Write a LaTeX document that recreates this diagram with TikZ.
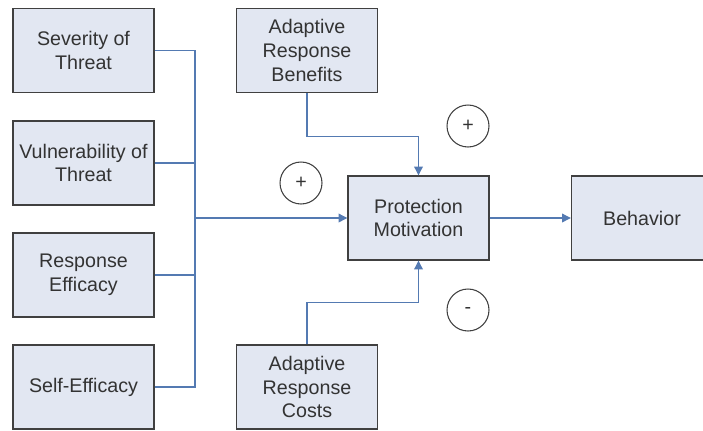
\documentclass[tikz,border=0pt]{standalone}
\usepackage{fontspec}
\setmainfont{Liberation Sans}
\usepackage{tikz}
\usetikzlibrary{arrows.meta}

\definecolor{boxfill}{RGB}{226,231,242}
\definecolor{boxline}{RGB}{64,64,64}
\definecolor{wireblue}{RGB}{84,122,178}

\begin{document}
\begin{tikzpicture}[x=0.02cm, y=-0.02cm,
  factor/.style={draw=boxline, line width=0.8pt, fill=boxfill,
    minimum width=2.82cm, minimum height=1.68cm, align=center,
    text=black!80, font=\fontsize{11.2}{13.6}\selectfont},
  wire/.style={draw=wireblue, line width=0.6pt},
  arrow/.style={wire, -{Triangle[length=5pt, width=5pt]}},
  sign/.style={circle, draw=boxline, line width=0.6pt, fill=white,
    minimum size=0.84cm, inner sep=0pt, text=black!80,
    font=\fontsize{11.2}{13.6}\selectfont}]
  \useasboundingbox (0,0) rectangle (703,430);

  % inputs on the left
  \node[factor] (sev)  at (83.5,50.5) {Severity of\\Threat};
  \node[factor] (vul)  at (83.5,163)  {Vulnerability of\\Threat};
  \node[factor] (reff) at (83.5,275)  {Response\\Efficacy};
  \node[factor] (self) at (83.5,387)  {Self-Efficacy};

  % middle column
  \node[factor] (ben)  at (307,50.5)  {Adaptive\\Response\\Benefits};
  \node[factor] (prot) at (418.5,218) {Protection\\Motivation};
  \node[factor] (cost) at (307,387)   {Adaptive\\Response\\Costs};
  \node[factor] (beh)  at (642,218)   {Behavior};

  % signs
  \node[sign] (plusa) at (301,183) {+};
  \node[sign] (plusb) at (468,126) {+};
  \node[sign] (minus) at (468,310) {-};

  % connectors
  \coordinate (join) at (195,218);
  \draw[wire] (sev.east)  -| (join);
  \draw[wire] (vul.east)  -| (join);
  \draw[wire] (reff.east) -| (join);
  \draw[wire] (self.east) -| (join);
  \draw[arrow] (join) -- (prot.west);
  \draw[arrow] (ben.south) -- ++(0,43) -| (prot.north);
  \draw[arrow] (cost.north) -- ++(0,-42) -| (prot.south);
  \draw[arrow] (prot.east) -- (beh.west);
\end{tikzpicture}
\end{document}
